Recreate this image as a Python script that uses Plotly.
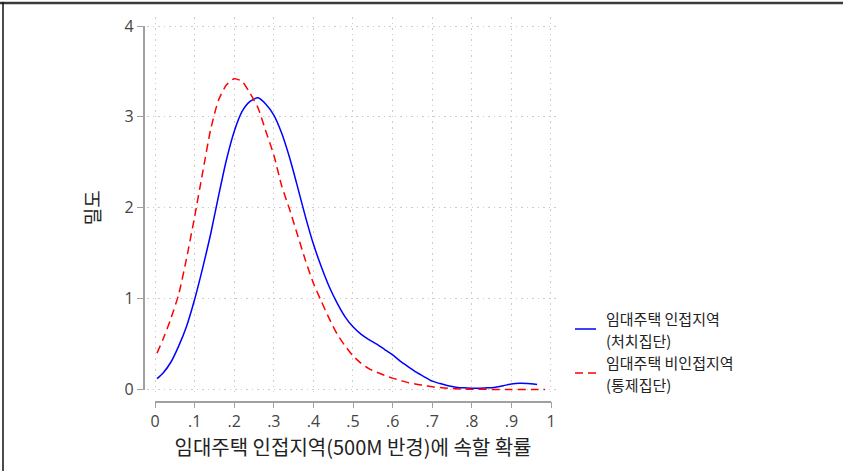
import plotly.graph_objects as go

# Kernel density estimates of the propensity score, by group
treated_x = [0.005, 0.02, 0.04, 0.06, 0.08, 0.10, 0.12, 0.14, 0.16, 0.18, 0.20,
             0.22, 0.24, 0.26, 0.28, 0.30, 0.32, 0.34, 0.36, 0.38, 0.40, 0.42,
             0.44, 0.46, 0.48, 0.50, 0.52, 0.54, 0.56, 0.58, 0.60, 0.62, 0.64,
             0.66, 0.68, 0.70, 0.72, 0.74, 0.76, 0.78, 0.80, 0.82, 0.84, 0.86,
             0.88, 0.90, 0.92, 0.94, 0.965]
treated_y = [0.12, 0.18, 0.30, 0.48, 0.70, 0.99, 1.33, 1.70, 2.12, 2.52, 2.84,
             3.06, 3.17, 3.21, 3.14, 3.02, 2.82, 2.55, 2.23, 1.90, 1.60, 1.35,
             1.13, 0.95, 0.80, 0.69, 0.61, 0.55, 0.50, 0.44, 0.38, 0.31, 0.25,
             0.19, 0.14, 0.092, 0.065, 0.042, 0.026, 0.018, 0.015, 0.015, 0.018, 0.026,
             0.042, 0.060, 0.068, 0.066, 0.055]

control_x = [0.005, 0.02, 0.04, 0.06, 0.08, 0.10, 0.12, 0.14, 0.16, 0.18, 0.20,
             0.22, 0.24, 0.26, 0.28, 0.30, 0.32, 0.34, 0.36, 0.38, 0.40, 0.42,
             0.44, 0.46, 0.48, 0.50, 0.52, 0.54, 0.56, 0.58, 0.60, 0.62, 0.64,
             0.66, 0.68, 0.70, 0.72, 0.74, 0.76, 0.78, 0.80, 0.85, 0.90, 0.95,
             0.985]
control_y = [0.40, 0.55, 0.78, 1.05, 1.45, 1.90, 2.38, 2.85, 3.18, 3.35, 3.42,
             3.39, 3.26, 3.10, 2.84, 2.58, 2.24, 1.98, 1.70, 1.42, 1.17, 0.97,
             0.78, 0.61, 0.48, 0.37, 0.29, 0.23, 0.19, 0.155, 0.125, 0.10, 0.075,
             0.058, 0.045, 0.030, 0.021, 0.013, 0.008, 0.005, 0.003, 0.001, 0.0,
             0.0, 0.0]

# legend labels, one list entry per text line
treated_label = ["임대주택 인접지역", "(처치집단)"]
control_label = ["임대주택 비인접지역", "(통제집단)"]

x_ticks = [0, 0.1, 0.2, 0.3, 0.4, 0.5, 0.6, 0.7, 0.8, 0.9, 1.0]
x_ticktext = ["0", ".1", ".2", ".3", ".4", ".5", ".6", ".7", ".8", ".9", "1"]
y_ticks = [0, 1, 2, 3, 4]

W, H = 843, 471
KR = "Noto Sans CJK KR"
AXIS_GRAY = "#a0a0a0"
GRID_GRAY = "#cccccc"
TEXT = "#222222"
TICK_FONT = dict(family="Open Sans, " + KR, size=16, color="#444444")
BLUE, RED = "#0000ff", "#ff0000"
RED_DASH = "8px,5px"


def px_x(p):
    return p / W


def px_y(p):
    return 1 - p / H


fig = go.Figure()

fig.add_trace(go.Scatter(
    x=treated_x, y=treated_y, mode="lines", showlegend=False,
    line=dict(color=BLUE, width=1.5, shape="spline", smoothing=0.6),
    xaxis="x", yaxis="y", hoverinfo="skip",
))
fig.add_trace(go.Scatter(
    x=control_x, y=control_y, mode="lines", showlegend=False,
    line=dict(color=RED, width=1.5, dash=RED_DASH, shape="spline", smoothing=0.6),
    xaxis="x", yaxis="y", hoverinfo="skip",
))
# carrier for the offset axis lines, ticks and titles
fig.add_trace(go.Scatter(x=[None], y=[None], xaxis="x2", yaxis="y2",
                         showlegend=False, hoverinfo="skip"))

# key on the right: sample line + two-line label per group
key_rows = [(treated_label, BLUE, "solid", 318), (control_label, RED, RED_DASH, 362)]
key_shapes, key_notes = [], []
for label, color, dash, top in key_rows:
    mid = top + 11
    key_shapes.append(dict(type="line", xref="paper", yref="paper",
                           x0=px_x(575), x1=px_x(596), y0=px_y(mid), y1=px_y(mid),
                           line=dict(color=color, width=1.5, dash=dash)))
    for i, line in enumerate(label):
        key_notes.append(dict(text=line, xref="paper", yref="paper",
                              x=px_x(604), y=px_y(top + 22 * i),
                              xanchor="left", yanchor="middle", showarrow=False,
                              font=dict(family=KR, size=15, color=TEXT)))

fig.update_layout(
    width=W, height=H,
    margin=dict(l=0, r=0, t=0, b=0, autoexpand=False),
    paper_bgcolor="white", plot_bgcolor="rgba(0,0,0,0)",
    font=dict(family=KR, color=TEXT),
    showlegend=False,
    # grid-only axes
    xaxis=dict(domain=[px_x(147), px_x(558)], range=[-0.0202, 1.0177],
               showgrid=True, gridcolor=GRID_GRAY, griddash="1.5px,4px", gridwidth=1,
               tickvals=x_ticks, showticklabels=False, ticks="",
               zeroline=False, showline=False, anchor="y"),
    yaxis=dict(domain=[px_y(392), px_y(17)], range=[-0.0275, 4.099],
               showgrid=True, gridcolor=GRID_GRAY, griddash="1.5px,4px", gridwidth=1,
               tickvals=y_ticks, showticklabels=False, ticks="",
               zeroline=False, showline=False, anchor="x"),
    # offset axes spanning the data range only
    xaxis2=dict(domain=[px_x(155), px_x(551)], range=[0, 1],
                anchor="free", position=px_y(401.5), side="bottom",
                showgrid=False, zeroline=False,
                showline=True, linecolor=AXIS_GRAY, linewidth=1.5,
                ticks="outside", ticklen=6, tickwidth=1.2, tickcolor=AXIS_GRAY,
                tickvals=x_ticks, ticktext=x_ticktext, tickfont=TICK_FONT,
                title=dict(text="임대주택 인접지역(500M 반경)에 속할 확률",
                           font=dict(family=KR, size=20, color=TEXT),
                           standoff=4)),
    yaxis2=dict(domain=[px_y(389.5), px_y(26)], range=[0, 4],
                anchor="free", position=px_x(143.5), side="left",
                showgrid=False, zeroline=False,
                showline=True, linecolor=AXIS_GRAY, linewidth=1.5,
                ticks="outside", ticklen=6, tickwidth=1.2, tickcolor=AXIS_GRAY,
                tickvals=y_ticks, tickfont=TICK_FONT,
                title=dict(text="밀도",
                           font=dict(family=KR, size=19, color=TEXT),
                           standoff=18)),
    annotations=key_notes,
    shapes=key_shapes + [
        dict(type="line", xref="paper", yref="paper", x0=0, x1=1,
             y0=px_y(3), y1=px_y(3), line=dict(color="#3a3a3a", width=2.5)),
        dict(type="line", xref="paper", yref="paper", x0=px_x(3), x1=px_x(3),
             y0=0, y1=px_y(2), line=dict(color="#111111", width=1.5)),
    ],
)

fig.write_html("out.html")
